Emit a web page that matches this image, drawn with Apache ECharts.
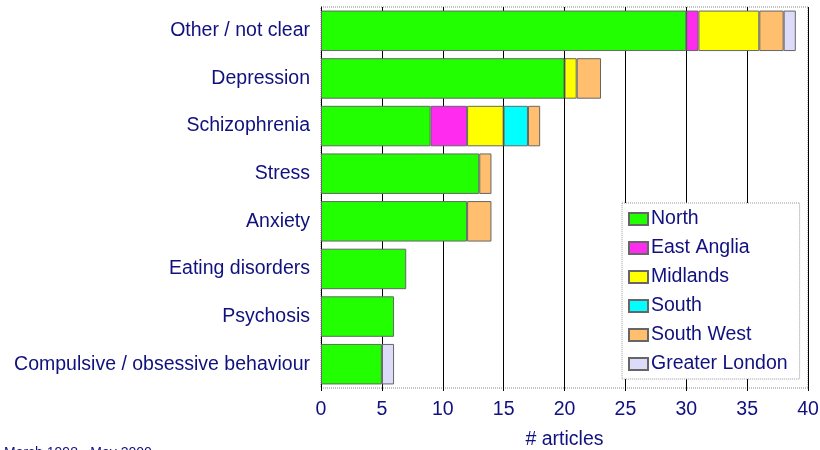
<!DOCTYPE html>
<html>
<head>
<meta charset="utf-8">
<script src="https://cdn.jsdelivr.net/npm/echarts@6/dist/echarts.min.js"></script>
<style>
  html, body { margin: 0; padding: 0; background: #fff; }
  #chart { width: 820px; height: 450px; }
</style>
</head>
<body>
<div id="chart"></div>
<script>
// categories, top to bottom
var categories = ['Other / not clear', 'Depression', 'Schizophrenia', 'Stress',
  'Anxiety', 'Eating disorders', 'Psychosis', 'Compulsive / obsessive behaviour'];

// articles per region
var north        = [30, 20, 9, 13, 12, 7, 6, 5];
var eastAnglia   = [1, 0, 3, 0, 0, 0, 0, 0];
var midlands     = [5, 1, 3, 0, 0, 0, 0, 0];
var south        = [0, 0, 2, 0, 0, 0, 0, 0];
var southWest    = [2, 2, 1, 1, 2, 0, 0, 0];
var greaterLondon = [1, 0, 0, 0, 0, 0, 0, 1];

var regions = ['North', 'East Anglia', 'Midlands', 'South', 'South West', 'Greater London'];
var region_data = [north, eastAnglia, midlands, south, southWest, greaterLondon];
var region_colors = ['#22ff00', '#ff2cf0', '#ffff00', '#00ffff', '#ffbf6e', '#dcdcfa'];

var textColor = '#10107f';
var font = 'Liberation Sans, Arial, sans-serif';
var fontSize = 19.5;

// 0 -> '-' so empty segments don't draw a border line
var series_list = [];
for (var i = 0; i < regions.length; i++) {
  series_list.push({
    name: regions[i],
    type: 'bar',
    stack: 'total',
    barCategoryGap: '15%',
    itemStyle: {
      color: region_colors[i],
      borderColor: '#666',
      borderWidth: 1
    },
    data: region_data[i].map(function (v) { return v === 0 ? '-' : v; })
  });
}

var chart = echarts.init(document.getElementById('chart'));
chart.setOption({
  animation: false,
  textStyle: { fontFamily: font },
  grid: {
    left: 321, right: 12, top: 7, bottom: 62,
    outerBoundsMode: 'none',
    show: true,
    borderColor: '#888',
    borderWidth: 1,
    borderType: 'dotted'
  },
  legend: {
    orient: 'vertical',
    left: 622,
    top: 203,
    padding: [6, 12, 5, 6],
    backgroundColor: '#fff',
    borderColor: '#999',
    borderWidth: 1,
    borderType: 'dotted',
    icon: 'rect',
    itemWidth: 19,
    itemHeight: 12,
    itemGap: 9,
    textStyle: { color: textColor, fontSize: fontSize, fontFamily: font, padding: [0, 0, 0, -2] },
    data: regions
  },
  xAxis: {
    type: 'value',
    min: 0,
    max: 40,
    interval: 5,
    name: '# articles',
    nameLocation: 'middle',
    nameGap: 42,
    nameTextStyle: { color: textColor, fontSize: fontSize, fontFamily: font },
    axisLine: { show: false },
    axisTick: { show: true, length: 3, lineStyle: { color: '#000' } },
    axisLabel: { color: textColor, fontSize: fontSize, margin: 12, fontFamily: font },
    splitLine: { show: true, lineStyle: { color: '#000', width: 1 } }
  },
  yAxis: {
    type: 'category',
    inverse: true,
    data: categories,
    axisLine: { show: true, lineStyle: { color: '#000', width: 1 } },
    axisTick: { show: false },
    axisLabel: { color: textColor, fontSize: fontSize, margin: 11, fontFamily: font }
  },
  graphic: [{
    type: 'text',
    left: 4,
    top: 446,
    style: { text: 'March 1998 - May 2000', fill: textColor, font: '14px Liberation Sans, Arial, sans-serif' }
  }],
  series: series_list
});
</script>
</body>
</html>
